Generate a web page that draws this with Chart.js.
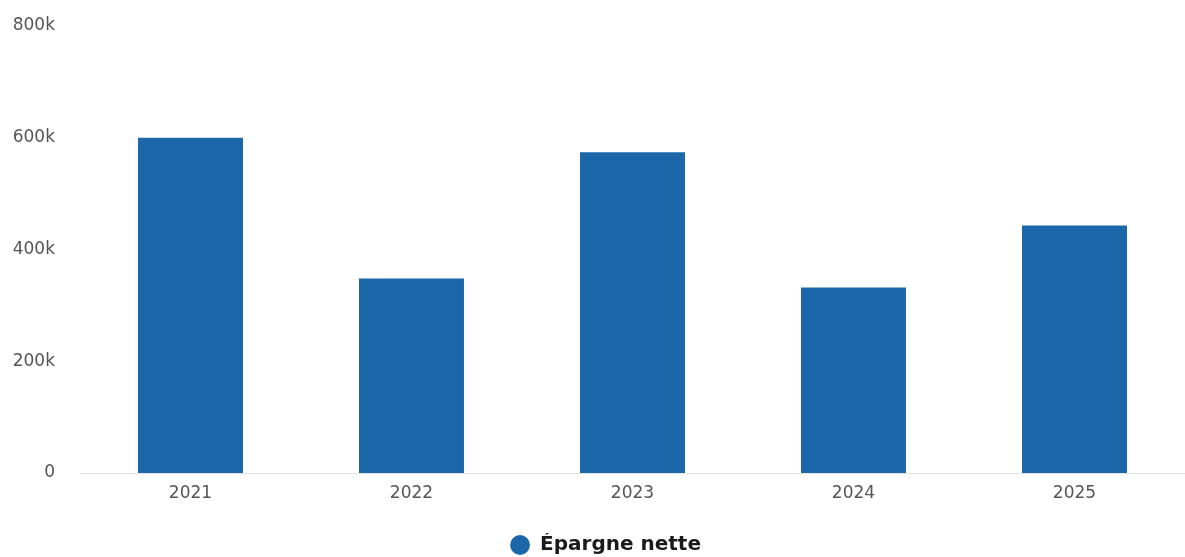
<!DOCTYPE html>
<html>
<head>
<meta charset="utf-8">
<script src="https://cdn.jsdelivr.net/npm/chart.js@4/dist/chart.umd.min.js"></script>
<style>
  html, body { margin: 0; padding: 0; background: #ffffff; }
  #wrap { width: 1185px; height: 557px; position: relative; }
</style>
</head>
<body>
<div id="wrap"><canvas id="c"></canvas></div>
<script>
const categories = ["2021", "2022", "2023", "2024", "2025"];
const seriesName = "Épargne nette";
const seriesValues = [600000, 348000, 574000, 332000, 443000];
const yTickValues = [0, 200000, 400000, 600000, 800000];
const yTickLabels = ["0", "200k", "400k", "600k", "800k"];

Chart.defaults.font.family = "'DejaVu Sans', sans-serif";

const legendShift = {
  id: 'legendShift',
  afterLayout(chart) {
    if (chart.legend) {
      chart.legend.left += 13;
      chart.legend.right += 13;
    }
  }
};

new Chart(document.getElementById('c'), {
  type: 'bar',
  data: {
    labels: categories,
    datasets: [{
      label: seriesName,
      data: seriesValues,
      backgroundColor: '#1b67aa',
      borderWidth: 0,
      categoryPercentage: 1.0,
      barPercentage: 0.475
    }]
  },
  plugins: [legendShift],
  options: {
    responsive: true,
    maintainAspectRatio: false,
    animation: false,
    layout: { padding: { top: 26, right: 0, bottom: -8, left: 0 } },
    plugins: {
      tooltip: { enabled: false },
      legend: {
        position: 'bottom',
        labels: {
          usePointStyle: true,
          pointStyle: 'circle',
          boxWidth: 20,
          boxHeight: 14,
          padding: 2,
          color: '#1a1a1a',
          font: { size: 20, weight: 'bold', family: "'DejaVu Sans', sans-serif" }
        }
      }
    },
    scales: {
      x: {
        grid: { display: false, drawTicks: false },
        border: { display: true, color: '#e3e3e3', width: 1 },
        ticks: { color: '#555555', padding: 10, font: { size: 17 } },
        afterFit: (axis) => { axis.height = 60; }
      },
      y: {
        min: 0,
        max: 800000,
        grid: { display: false, drawTicks: false },
        border: { display: false },
        afterBuildTicks: (axis) => { axis.ticks = yTickValues.map(v => ({ value: v })); },
        ticks: {
          color: '#555555',
          padding: 25,
          font: { size: 17 },
          callback: (value) => {
            const i = yTickValues.indexOf(value);
            return i >= 0 ? yTickLabels[i] : '';
          }
        },
        afterFit: (axis) => {
          axis.width = 80;
          axis.paddingTop = 0;
          axis.paddingBottom = 0;
        }
      }
    }
  }
});
</script>
</body>
</html>
